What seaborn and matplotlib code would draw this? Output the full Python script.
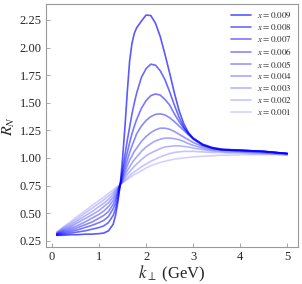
import numpy as np
import pandas as pd
import matplotlib
matplotlib.use("Agg")
import matplotlib.pyplot as plt
import seaborn as sns

# k_perp grid (GeV)
k_perp = [0.1, 0.25, 0.4, 0.55, 0.7, 0.85, 1.0, 1.1, 1.2, 1.3, 1.35, 1.4, 1.45,
          1.5, 1.55, 1.6, 1.65, 1.7, 1.75, 1.8, 1.9, 2.0, 2.1, 2.2, 2.3, 2.4,
          2.5, 2.6, 2.7, 2.8, 2.9, 3.0, 3.2, 3.4, 3.6, 3.8, 4.0, 4.25, 4.5,
          4.75, 5.0]

x_labels = ["0.009", "0.008", "0.007", "0.006", "0.005",
            "0.004", "0.003", "0.002", "0.001"]

r_009 = [0.30, 0.30, 0.305, 0.305, 0.31, 0.31, 0.315, 0.32, 0.34, 0.40, 0.48, 0.60, 0.76,
         1.00, 1.28, 1.60, 1.88, 2.04, 2.13, 2.18, 2.24, 2.295, 2.29, 2.22, 2.10, 1.94,
         1.77, 1.59, 1.43, 1.31, 1.23, 1.18, 1.12, 1.09, 1.075, 1.07, 1.07, 1.065, 1.06,
         1.05, 1.04]
r_008 = [0.30, 0.31, 0.32, 0.33, 0.34, 0.355, 0.37, 0.385, 0.415, 0.48, 0.54, 0.63, 0.76,
         0.90, 1.03, 1.16, 1.28, 1.40, 1.50, 1.59, 1.73, 1.81, 1.85, 1.84, 1.79, 1.71,
         1.60, 1.48, 1.37, 1.28, 1.22, 1.17, 1.115, 1.09, 1.075, 1.07, 1.07, 1.065, 1.06,
         1.05, 1.04]
r_007 = [0.305, 0.32, 0.335, 0.35, 0.37, 0.39, 0.415, 0.435, 0.47, 0.54, 0.59, 0.665, 0.76,
         0.87, 0.96, 1.05, 1.14, 1.22, 1.29, 1.35, 1.45, 1.52, 1.565, 1.58, 1.57, 1.53,
         1.48, 1.40, 1.33, 1.27, 1.22, 1.18, 1.125, 1.095, 1.08, 1.075, 1.07, 1.065, 1.06,
         1.05, 1.04]
r_006 = [0.31, 0.33, 0.35, 0.37, 0.395, 0.42, 0.455, 0.48, 0.515, 0.58, 0.625, 0.685, 0.76,
         0.84, 0.91, 0.98, 1.05, 1.11, 1.165, 1.22, 1.29, 1.34, 1.375, 1.395, 1.40, 1.39,
         1.365, 1.33, 1.29, 1.25, 1.21, 1.175, 1.125, 1.095, 1.08, 1.075, 1.07, 1.065, 1.06,
         1.05, 1.04]
r_005 = [0.31, 0.34, 0.365, 0.39, 0.42, 0.455, 0.49, 0.52, 0.56, 0.615, 0.655, 0.70, 0.76,
         0.82, 0.875, 0.93, 0.98, 1.02, 1.06, 1.09, 1.15, 1.195, 1.23, 1.255, 1.27, 1.27,
         1.26, 1.24, 1.215, 1.19, 1.165, 1.14, 1.105, 1.085, 1.075, 1.07, 1.065, 1.06, 1.055,
         1.05, 1.04]
r_004 = [0.315, 0.35, 0.38, 0.415, 0.45, 0.485, 0.525, 0.56, 0.595, 0.645, 0.68, 0.715, 0.76,
         0.80, 0.845, 0.885, 0.92, 0.955, 0.985, 1.01, 1.06, 1.10, 1.13, 1.155, 1.17, 1.18,
         1.18, 1.175, 1.165, 1.15, 1.13, 1.115, 1.09, 1.075, 1.07, 1.065, 1.06, 1.055, 1.05,
         1.045, 1.04]
r_003 = [0.32, 0.36, 0.395, 0.435, 0.475, 0.515, 0.56, 0.59, 0.625, 0.67, 0.70, 0.725, 0.76,
         0.79, 0.82, 0.85, 0.875, 0.90, 0.925, 0.945, 0.985, 1.02, 1.045, 1.065, 1.085, 1.10,
         1.105, 1.11, 1.11, 1.105, 1.10, 1.09, 1.075, 1.065, 1.06, 1.055, 1.055, 1.05, 1.045,
         1.04, 1.035]
r_002 = [0.325, 0.37, 0.41, 0.455, 0.50, 0.545, 0.59, 0.62, 0.655, 0.69, 0.715, 0.735, 0.76,
         0.78, 0.80, 0.82, 0.84, 0.86, 0.875, 0.89, 0.92, 0.945, 0.97, 0.99, 1.01, 1.025,
         1.04, 1.05, 1.055, 1.06, 1.06, 1.06, 1.055, 1.05, 1.05, 1.045, 1.045, 1.04, 1.04,
         1.035, 1.03]
r_001 = [0.33, 0.38, 0.425, 0.475, 0.52, 0.57, 0.615, 0.645, 0.68, 0.71, 0.73, 0.745, 0.76,
         0.775, 0.79, 0.805, 0.82, 0.835, 0.85, 0.86, 0.885, 0.91, 0.93, 0.945, 0.96, 0.97,
         0.98, 0.99, 0.995, 1.00, 1.005, 1.01, 1.015, 1.02, 1.025, 1.025, 1.03, 1.03, 1.03,
         1.03, 1.025]

series = [r_009, r_008, r_007, r_006, r_005, r_004, r_003, r_002, r_001]
alphas = [0.65, 0.59, 0.53, 0.47, 0.41, 0.35, 0.29, 0.23, 0.18]

sns.set_style("white")
plt.rcParams['font.family'] = ['Liberation Serif', 'DejaVu Serif']
plt.rcParams['mathtext.fontset'] = 'stix'

fig = plt.figure(figsize=(3.02, 2.84), dpi=100)
ax = fig.add_axes([0.152, 0.130, 0.835, 0.856])

for lab, vals, a in zip(x_labels, series, alphas):
    df = pd.DataFrame({"k": k_perp, "R": vals})
    sns.lineplot(data=df, x="k", y="R", ax=ax, color="blue", alpha=a,
                 lw=1.2, label=r"$x = " + lab + "$")

ax.set_xlim(-0.13, 5.23)
ax.set_ylim(0.193, 2.395)
ax.set_xticks([0, 1, 2, 3, 4, 5])
ax.set_yticks([0.25, 0.5, 0.75, 1.0, 1.25, 1.5, 1.75, 2.0, 2.25])
ax.set_yticklabels(["0.25", "0.50", "0.75", "1.00", "1.25", "1.50", "1.75", "2.00", "2.25"])
ax.tick_params(direction="in", length=3, width=0.6, color="#999999",
               labelsize=9, pad=3, top=False, right=False, bottom=True, left=True)
for sp in ax.spines.values():
    sp.set_color("#999999")
    sp.set_linewidth(0.8)

ax.set_xlabel(r"$k_\perp$ (GeV)", fontsize=12)
ax.xaxis.set_label_coords(0.5, -0.07)
ax.set_ylabel(r"$R_N$", fontsize=11.5)
ax.yaxis.set_label_coords(-0.113, 0.5)

ax.legend(loc="upper right", bbox_to_anchor=(1.0, 1.0), frameon=False,
          fontsize=6.5, handlelength=2.2, labelspacing=0.2, handletextpad=0.6,
          borderaxespad=0.3)

fig.savefig("out.png", dpi=100)
